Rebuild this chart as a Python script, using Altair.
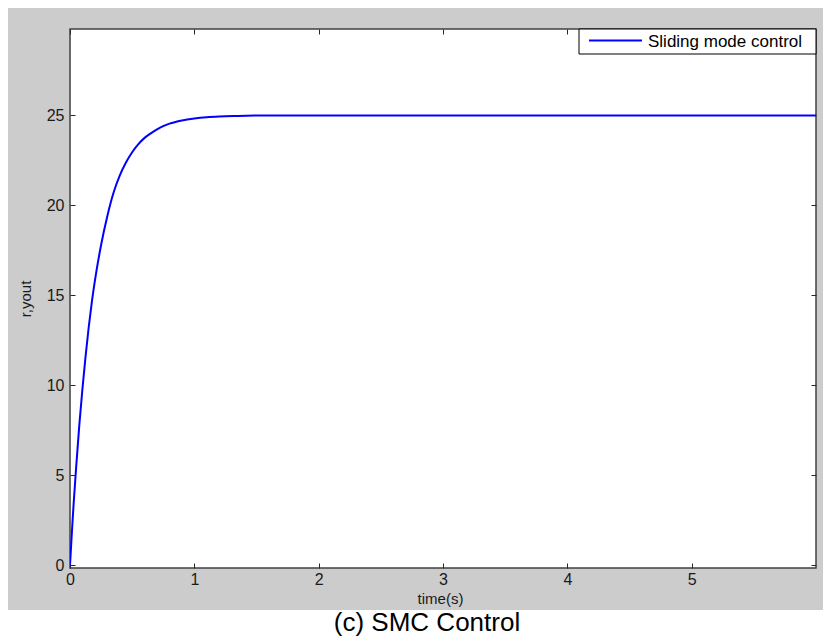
import altair as alt
import pandas as pd

# ---- data ----
t_values = [0, 0.01, 0.02, 0.03, 0.05, 0.075, 0.1, 0.125, 0.15, 0.175, 0.2, 0.25,
            0.3, 0.35, 0.4, 0.45, 0.5, 0.55, 0.6, 0.65, 0.7, 0.75, 0.8, 0.9, 1.0, 1.1, 1.2,
            1.35, 1.5, 1.75, 2.0, 3.0, 4.0, 5.0, 6.0]
y_values = [0, 1.2, 2.4, 3.5, 5.5, 7.8, 9.8, 11.6, 13.2, 14.6, 15.8, 17.8,
            19.4, 20.7, 21.65, 22.38, 22.95, 23.4, 23.75, 24.0, 24.22, 24.4, 24.54, 24.72, 24.83,
            24.9, 24.94, 24.97, 24.99, 25.0, 25.0, 25.0, 25.0, 25.0, 25.0]
series_name = "Sliding mode control"
x_ticks = [0, 1, 2, 3, 4, 5]
y_ticks = [0, 5, 10, 15, 20, 25]
x_domain = [0, 6]
y_domain = [-0.15, 29.8]
x_title = "time(s)"
y_title = "r,yout"
caption = "(c) SMC Control"

W, H = 746, 539
FONT = "Liberation Sans"
TXT = "#1a1a1a"

df = pd.DataFrame({"t": t_values, "y": y_values})

xs = alt.Scale(domain=x_domain, nice=False, zero=False)
ys = alt.Scale(domain=y_domain, nice=False, zero=False)

common = dict(domain=False, grid=False, tickSize=5, tickColor="#262626", tickWidth=1,
              offset=-5, labelFont=FONT, labelFontSize=16, labelColor=TXT)

x_axis = alt.Axis(orient="bottom", values=x_ticks, title=x_title, labelPadding=3,
                  labelFlush=False, labelOverlap=False,
                  titleFont=FONT, titleFontSize=15, titleFontWeight="normal", titleColor=TXT,
                  titleX=370, titleY=40, titleBaseline="alphabetic", titleAlign="center",
                  **common)
y_axis = alt.Axis(orient="left", values=y_ticks, title=y_title, labelPadding=6,
                  labelOverlap=False,
                  titleFont=FONT, titleFontSize=15, titleFontWeight="normal", titleColor=TXT,
                  titleX=-50, titleY=H / 2, titleAngle=270, titleAlign="center",
                  titleBaseline="middle", **common)
top_axis = alt.Axis(orient="top", values=x_ticks, labels=False, title=None, **common)
right_axis = alt.Axis(orient="right", values=y_ticks, labels=False, title=None, **common)

one = alt.Data(values=[{"label": series_name, "cap": caption}])

strip = alt.Chart(one).mark_rect(fill="white", strokeWidth=0).encode(
    x=alt.value(-62), x2=alt.value(W + 15), y=alt.value(581), y2=alt.value(645))

line = alt.Chart(df).mark_line(color="#0000ff", strokeWidth=2, interpolate="monotone", clip=True).encode(
    x=alt.X("t:Q", scale=xs, axis=x_axis),
    y=alt.Y("y:Q", scale=ys, axis=y_axis))

mirror = alt.Chart(df).mark_line(opacity=0).encode(
    x=alt.X("t:Q", scale=xs, axis=top_axis),
    y=alt.Y("y:Q", scale=ys, axis=right_axis))

box = alt.Chart(one).mark_rect(fill="white", stroke="black", strokeWidth=1).encode(
    x=alt.value(509), x2=alt.value(W), y=alt.value(0), y2=alt.value(25))
swatch = alt.Chart(one).mark_rule(color="#0000ff", strokeWidth=2).encode(
    x=alt.value(519), x2=alt.value(572), y=alt.value(11.5))
label = alt.Chart(one).mark_text(align="left", baseline="alphabetic", font=FONT,
                                 fontSize=17, color="black").encode(
    x=alt.value(578), y=alt.value(17.5), text="label:N")

cap = alt.Chart(one).mark_text(align="center", baseline="alphabetic", font=FONT,
                               fontSize=26, color="black").encode(
    x=alt.value(357), y=alt.value(602), text="cap:N")

chart = alt.layer(strip, line, mirror, box, swatch, label, cap).properties(
    width=W, height=H,
    background="#cccccc",
    padding={"left": 62, "top": 21, "right": 7, "bottom": 70},
    autosize=alt.AutoSizeParams(type="none"),
).configure_view(fill="white", stroke="#404040", strokeWidth=1.5)

chart.save("out.html", embed_options={"renderer": "svg", "actions": False})
